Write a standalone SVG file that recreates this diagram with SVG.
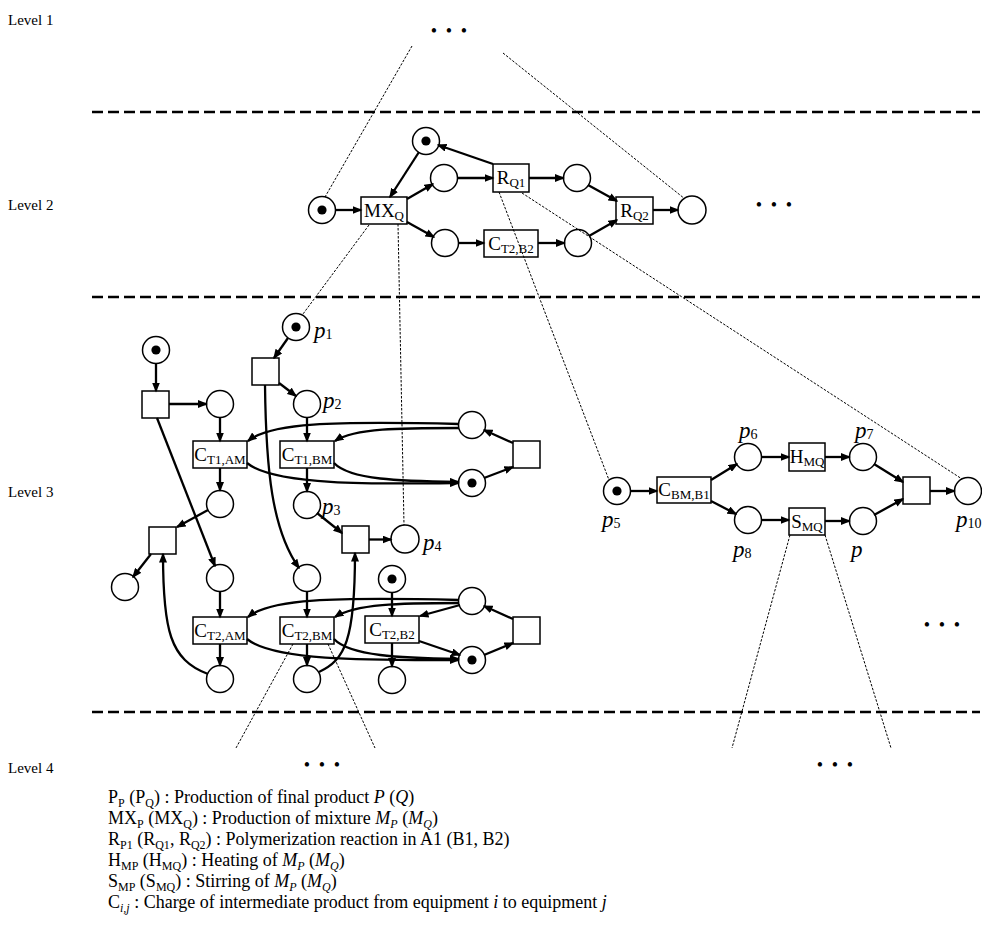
<svg xmlns="http://www.w3.org/2000/svg" width="982" height="934" viewBox="0 0 982 934">
<defs>
<style>
.pl{fill:#fff;stroke:#000;stroke-width:1.5}
.tr{fill:#fff;stroke:#000;stroke-width:1.5}
.tk{fill:#000}
.arc{fill:none;stroke:#000;stroke-width:2.3;marker-end:url(#ah)}
.dl{fill:none;stroke:#000;stroke-width:1;stroke-dasharray:2.5 1.5}
.lv{fill:none;stroke:#000;stroke-width:2.5;stroke-dasharray:11 5}
text{font-family:"Liberation Serif","Times New Roman",serif;fill:#000}
.nl{font-size:19px;text-anchor:middle}
.ns{font-size:13px}
.pv{font-size:23px;font-style:italic}
.pn{font-size:14px;font-style:normal}
.lvl{font-size:15px}
.lg{font-size:18px}
.ls{font-size:12px}
.it{font-style:italic}
.dots{font-size:18px;text-anchor:middle}
</style>
<marker id="ah" viewBox="0 0 10 8" refX="8.5" refY="4" markerWidth="10" markerHeight="8" orient="auto" markerUnits="userSpaceOnUse"><path d="M0,0 L10,4 L0,8 z" fill="#000"/></marker>
</defs>
<rect width="982" height="934" fill="#fff"/>

<g id="levels">
<line class="lv" x1="92" y1="112" x2="980" y2="112"/>
<line class="lv" x1="92" y1="297" x2="980" y2="297"/>
<line class="lv" x1="92" y1="712" x2="980" y2="712"/>
<text class="lvl" x="8" y="25">Level 1</text>
<text class="lvl" x="8" y="210">Level 2</text>
<text class="lvl" x="8" y="497">Level 3</text>
<text class="lvl" x="8" y="773">Level 4</text>
<text class="dots" x="434 449 464" y="37">•••</text>
<text class="dots" x="759 774 789" y="211">•••</text>
<text class="dots" x="927 942 957" y="631">•••</text>
<text class="dots" x="307 322 337" y="771">•••</text>
<text class="dots" x="820 835 850" y="771">•••</text>
</g>

<!-- Level 2 nodes -->
<g id="L2_p0"><circle class="pl" cx="322" cy="210" r="13.5"/><circle class="tk" cx="322" cy="210" r="4.6"/></g>
<g id="L2_MXQ"><rect class="tr" x="361" y="197" width="46" height="27"/><text class="nl" x="384" y="216.5">MX<tspan class="ns" dy="3">Q</tspan></text></g>
<g id="L2_ptop"><circle class="pl" cx="426" cy="141" r="13.5"/><circle class="tk" cx="426" cy="141" r="4.6"/></g>
<g id="L2_pu"><circle class="pl" cx="444" cy="178" r="13.5"/></g>
<g id="L2_RQ1"><rect class="tr" x="493" y="164" width="36" height="28"/><text class="nl" x="511" y="183.5">R<tspan class="ns" dy="3">Q1</tspan></text></g>
<g id="L2_pu2"><circle class="pl" cx="577" cy="178" r="13.5"/></g>
<g id="L2_RQ2"><rect class="tr" x="616" y="197" width="37" height="27"/><text class="nl" x="634.5" y="216.5">R<tspan class="ns" dy="3">Q2</tspan></text></g>
<g id="L2_pend"><circle class="pl" cx="692" cy="210" r="14"/></g>
<g id="L2_pl"><circle class="pl" cx="445" cy="243" r="13.5"/></g>
<g id="L2_CT2B2"><rect class="tr" x="484" y="230" width="54" height="27"/><text class="nl" x="511" y="249.5">C<tspan class="ns" dy="3">T2,B2</tspan></text></g>
<g id="L2_pl2"><circle class="pl" cx="578" cy="243" r="13.5"/></g>

<!-- Level 3 left nodes -->
<g id="L3_pA"><circle class="pl" cx="156" cy="350" r="13.5"/><circle class="tk" cx="156" cy="350" r="4.6"/></g>
<g id="L3_tA"><rect class="tr" x="142" y="391" width="27" height="27"/></g>
<g id="L3_pB"><circle class="pl" cx="220" cy="404" r="13.5"/></g>
<g id="L3_CT1AM"><rect class="tr" x="193" y="441" width="54" height="27"/><text class="nl" x="220" y="460.5">C<tspan class="ns" dy="3">T1,AM</tspan></text></g>
<g id="L3_pC"><circle class="pl" cx="220" cy="504" r="13.5"/></g>
<g id="L3_p1"><circle class="pl" cx="296" cy="327" r="13.5"/><circle class="tk" cx="296" cy="327" r="4.6"/><text class="pv" x="314" y="338">p<tspan class="pn" dy="1">1</tspan></text></g>
<g id="L3_tB"><rect class="tr" x="252" y="358" width="27" height="27"/></g>
<g id="L3_p2"><circle class="pl" cx="307" cy="404" r="13.5"/><text class="pv" x="323" y="408">p<tspan class="pn" dy="1">2</tspan></text></g>
<g id="L3_CT1BM"><rect class="tr" x="280" y="441" width="54" height="27"/><text class="nl" x="307" y="460.5">C<tspan class="ns" dy="3">T1,BM</tspan></text></g>
<g id="L3_p3"><circle class="pl" cx="307" cy="505" r="13.5"/><text class="pv" x="322" y="514">p<tspan class="pn" dy="1">3</tspan></text></g>
<g id="L3_pR1"><circle class="pl" cx="472" cy="425" r="13.5"/></g>
<g id="L3_tR1"><rect class="tr" x="513" y="441" width="27" height="27"/></g>
<g id="L3_pT1"><circle class="pl" cx="472" cy="483" r="13.5"/><circle class="tk" cx="472" cy="483" r="4.6"/></g>
<g id="L3_tC"><rect class="tr" x="149" y="527" width="27" height="27"/></g>
<g id="L3_pD"><circle class="pl" cx="125" cy="587" r="13.5"/></g>
<g id="L3_tD"><rect class="tr" x="342" y="526" width="27" height="27"/></g>
<g id="L3_p4"><circle class="pl" cx="405" cy="539" r="14"/><text class="pv" x="423" y="550">p<tspan class="pn" dy="1">4</tspan></text></g>
<g id="L3_pE"><circle class="pl" cx="220" cy="578" r="13.5"/></g>
<g id="L3_pF"><circle class="pl" cx="307" cy="578" r="13.5"/></g>
<g id="L3_pT2"><circle class="pl" cx="392" cy="579" r="13.5"/><circle class="tk" cx="392" cy="579" r="4.6"/></g>
<g id="L3_CT2AM"><rect class="tr" x="193" y="617" width="54" height="27"/><text class="nl" x="220" y="636.5">C<tspan class="ns" dy="3">T2,AM</tspan></text></g>
<g id="L3_CT2BM"><rect class="tr" x="280" y="617" width="54" height="27"/><text class="nl" x="307" y="636.5">C<tspan class="ns" dy="3">T2,BM</tspan></text></g>
<g id="L3_CT2B2"><rect class="tr" x="365" y="616" width="54" height="27"/><text class="nl" x="392" y="635.5">C<tspan class="ns" dy="3">T2,B2</tspan></text></g>
<g id="L3_pG"><circle class="pl" cx="220" cy="679" r="13.5"/></g>
<g id="L3_pH"><circle class="pl" cx="307" cy="679" r="13.5"/></g>
<g id="L3_pI"><circle class="pl" cx="392" cy="680" r="13.5"/></g>
<g id="L3_pR2"><circle class="pl" cx="472" cy="601" r="13.5"/></g>
<g id="L3_tR2"><rect class="tr" x="513" y="617" width="27" height="27"/></g>
<g id="L3_pT3"><circle class="pl" cx="472" cy="660" r="13.5"/><circle class="tk" cx="472" cy="660" r="4.6"/></g>

<!-- Level 3 right nodes -->
<g id="L3_p5"><circle class="pl" cx="617" cy="491" r="13.5"/><circle class="tk" cx="617" cy="491" r="4.6"/><text class="pv" x="602" y="527">p<tspan class="pn" dy="1">5</tspan></text></g>
<g id="L3_CBMB1"><rect class="tr" x="657" y="477" width="54" height="26"/><text class="nl" x="684" y="496">C<tspan class="ns" dy="3">BM,B1</tspan></text></g>
<g id="L3_p6"><circle class="pl" cx="748" cy="457" r="13.5"/><text class="pv" x="739" y="438">p<tspan class="pn" dy="1">6</tspan></text></g>
<g id="L3_HMQ"><rect class="tr" x="789" y="443" width="36" height="28"/><text class="nl" x="807" y="462.5">H<tspan class="ns" dy="3">MQ</tspan></text></g>
<g id="L3_p7"><circle class="pl" cx="863" cy="457" r="13.5"/><text class="pv" x="855" y="438">p<tspan class="pn" dy="1">7</tspan></text></g>
<g id="L3_p8"><circle class="pl" cx="748" cy="520" r="13.5"/><text class="pv" x="733" y="557">p<tspan class="pn" dy="1">8</tspan></text></g>
<g id="L3_SMQ"><rect class="tr" x="789" y="508" width="36" height="27"/><text class="nl" x="807" y="527.5">S<tspan class="ns" dy="3">MQ</tspan></text></g>
<g id="L3_p9"><circle class="pl" cx="863" cy="521" r="13.5"/><text class="pv" x="851" y="557">p</text></g>
<g id="L3_tF"><rect class="tr" x="903" y="477" width="27" height="27"/></g>
<g id="L3_p10"><circle class="pl" cx="968" cy="491" r="13.5"/><text class="pv" x="956" y="527">p<tspan class="pn" dy="1">10</tspan></text></g>

<g id="connectors">
<!-- level 2 arcs -->
<path class="arc" d="M335.5,210 L361,210"/>
<path class="arc" d="M419,152 L390,197"/>
<path class="arc" d="M493,164 L438,145"/>
<path class="arc" d="M407,199 L433,184"/>
<path class="arc" d="M407,222 L434,237"/>
<path class="arc" d="M457.5,178 L493,178"/>
<path class="arc" d="M529,178 L563.5,178"/>
<path class="arc" d="M588,185 L617,201"/>
<path class="arc" d="M458.5,243 L484,243"/>
<path class="arc" d="M538,243 L564.5,243"/>
<path class="arc" d="M589,236 L617,220"/>
<path class="arc" d="M653,210 L678,210"/>
<!-- level 3 left arcs -->
<path class="arc" d="M156,363.5 L156,391"/>
<path class="arc" d="M169,404 L206.5,404"/>
<path class="arc" d="M220,417.5 L220,441"/>
<path class="arc" d="M220,468 L220,490.5"/>
<path class="arc" d="M288,338 L274,358"/>
<path class="arc" d="M279,383 L296,396"/>
<path class="arc" d="M307,417.5 L307,441"/>
<path class="arc" d="M307,468 L307,491.5"/>
<path class="arc" d="M208,510 L177,527"/>
<path class="arc" d="M151,554 L133,577"/>
<path class="arc" d="M317,513 L342,533"/>
<path class="arc" d="M369,539.5 L391,539.5"/>
<path class="arc" d="M157,418 L215,566"/>
<path class="arc" d="M265,385 C266,470 272,530 299,568"/>
<path class="arc" d="M220,591.5 L220,617"/>
<path class="arc" d="M307,591.5 L307,617"/>
<path class="arc" d="M392,592.5 L392,616"/>
<path class="arc" d="M220,644 L220,665.5"/>
<path class="arc" d="M307,644 L307,665.5"/>
<path class="arc" d="M392,643 L392,666.5"/>
<path class="arc" d="M208,674 C170,660 163,630 163,554"/>
<path class="arc" d="M319,672 C345,660 355,640 355,553"/>
<path class="arc" d="M484,478 L513,467"/>
<path class="arc" d="M513,443 L484,430"/>
<path class="arc" d="M459,424 C330,421 270,423 248,441"/>
<path class="arc" d="M459,428 C400,428 355,428 335,441"/>
<path class="arc" d="M247,463 C275,486 380,484 458.5,483"/>
<path class="arc" d="M334,463 C350,480 400,481 458.5,482"/>
<path class="arc" d="M484,655 L513,643"/>
<path class="arc" d="M513,619 L484,606"/>
<path class="arc" d="M459,600 C330,597 270,599 248,617"/>
<path class="arc" d="M459,603 C400,603 355,604 335,617"/>
<path class="arc" d="M460,605 L420,616"/>
<path class="arc" d="M247,639 C275,662 380,660 458.5,660"/>
<path class="arc" d="M334,639 C350,656 400,658 458.5,659"/>
<path class="arc" d="M419,641 L460,655"/>
<!-- level 3 right arcs -->
<path class="arc" d="M630.5,491 L657,491"/>
<path class="arc" d="M711,480 L737,464"/>
<path class="arc" d="M761.5,457 L789,457"/>
<path class="arc" d="M825,457 L849.5,457"/>
<path class="arc" d="M711,501 L736,514"/>
<path class="arc" d="M761.5,520 L789,520"/>
<path class="arc" d="M825,521 L849.5,521"/>
<path class="arc" d="M874,464 L903,482"/>
<path class="arc" d="M874,515 L903,499"/>
<path class="arc" d="M930,491 L954.5,491"/>
<!-- refinement (dotted) lines -->
<path class="dl" d="M412,46 L325,197"/>
<path class="dl" d="M503,53 L685,199"/>
<path class="dl" d="M369,225 L303,314"/>
<path class="dl" d="M398,224 L404,525"/>
<path class="dl" d="M499,192 L609,480"/>
<path class="dl" d="M522,193 L962,479"/>
<path class="dl" d="M293,644 L236,748"/>
<path class="dl" d="M328,644 L375,748"/>
<path class="dl" d="M790,535 L732,748"/>
<path class="dl" d="M825,535 L891,748"/>
</g>

<g id="legend">
<text class="lg" x="108" y="803">P<tspan class="ls" dy="3.5">P</tspan><tspan dy="-3.5"> (P</tspan><tspan class="ls" dy="3.5">Q</tspan><tspan dy="-3.5">) : Production of final product </tspan><tspan class="it">P</tspan> (<tspan class="it">Q</tspan>)</text>
<text class="lg" x="108" y="824">MX<tspan class="ls" dy="3.5">P</tspan><tspan dy="-3.5"> (MX</tspan><tspan class="ls" dy="3.5">Q</tspan><tspan dy="-3.5">) : Production of mixture </tspan><tspan class="it">M</tspan><tspan class="ls it" dy="3.5">P</tspan><tspan dy="-3.5"> (</tspan><tspan class="it">M</tspan><tspan class="ls it" dy="3.5">Q</tspan><tspan dy="-3.5">)</tspan></text>
<text class="lg" x="108" y="845">R<tspan class="ls" dy="3.5">P1</tspan><tspan dy="-3.5"> (R</tspan><tspan class="ls" dy="3.5">Q1</tspan><tspan dy="-3.5">, R</tspan><tspan class="ls" dy="3.5">Q2</tspan><tspan dy="-3.5">) : Polymerization reaction in A1 (B1, B2)</tspan></text>
<text class="lg" x="108" y="866">H<tspan class="ls" dy="3.5">MP</tspan><tspan dy="-3.5"> (H</tspan><tspan class="ls" dy="3.5">MQ</tspan><tspan dy="-3.5">) : Heating of </tspan><tspan class="it">M</tspan><tspan class="ls it" dy="3.5">P</tspan><tspan dy="-3.5"> (</tspan><tspan class="it">M</tspan><tspan class="ls it" dy="3.5">Q</tspan><tspan dy="-3.5">)</tspan></text>
<text class="lg" x="108" y="887">S<tspan class="ls" dy="3.5">MP</tspan><tspan dy="-3.5"> (S</tspan><tspan class="ls" dy="3.5">MQ</tspan><tspan dy="-3.5">) : Stirring of </tspan><tspan class="it">M</tspan><tspan class="ls it" dy="3.5">P</tspan><tspan dy="-3.5"> (</tspan><tspan class="it">M</tspan><tspan class="ls it" dy="3.5">Q</tspan><tspan dy="-3.5">)</tspan></text>
<text class="lg" x="108" y="908">C<tspan class="ls it" dy="3.5">i,j</tspan><tspan dy="-3.5"> : Charge of intermediate product from equipment </tspan><tspan class="it">i</tspan> to equipment <tspan class="it">j</tspan></text>
</g>
</svg>
